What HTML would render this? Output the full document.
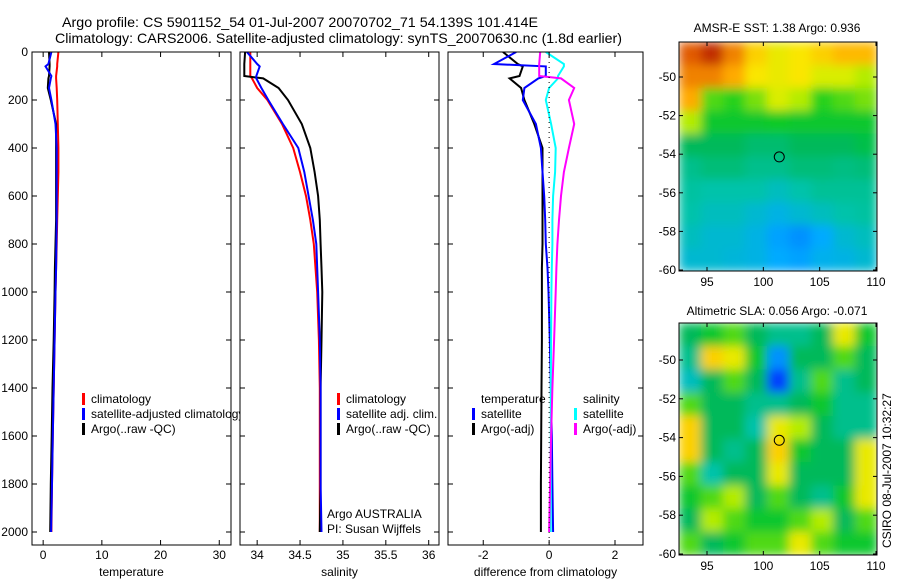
<!DOCTYPE html>
<html><head><meta charset="utf-8"><style>
body{margin:0;background:#fff}
svg{display:block;font-family:"Liberation Sans",sans-serif}
</style></head><body>
<svg id="fig" width="900" height="580" viewBox="0 0 900 580" xmlns="http://www.w3.org/2000/svg">
<defs>
<filter id="blur" x="-5%" y="-5%" width="110%" height="110%"><feGaussianBlur stdDeviation="5" edgeMode="duplicate"/></filter>
</defs>
<rect width="900" height="580" fill="#fff"/>
<text x="62" y="27" font-size="14" textLength="476" lengthAdjust="spacingAndGlyphs">Argo profile: CS 5901152_54 01-Jul-2007 20070702_71 54.139S 101.414E</text>
<text x="55" y="43" font-size="14" textLength="567" lengthAdjust="spacingAndGlyphs">Climatology: CARS2006. Satellite-adjusted climatology: synTS_20070630.nc (1.8d earlier)</text>
<g id="maps"></g>
<g id="panels"></g>
<text x="777" y="32" font-size="12" text-anchor="middle">AMSR-E SST: 1.38 Argo: 0.936</text>
<text x="777" y="315" font-size="12" text-anchor="middle">Altimetric SLA: 0.056 Argo: -0.071</text>
<text transform="translate(891,548) rotate(-90)" font-size="12">CSIRO 08-Jul-2007 10:32:27</text>
</svg>
<script>
const depths=[0,50,60,100,110,150,200,300,400,500,600,700,800,900,1000,1200,1400,1600,1800,2000];
const tClim=[2.6,2.4,2.4,2.2,2.2,2.3,2.4,2.5,2.6,2.6,2.5,2.4,2.3,2.2,2.1,1.95,1.8,1.65,1.5,1.4];
const tSat=[1.4,0.9,0.4,1.4,1.3,1.0,1.4,2.1,2.3,2.3,2.3,2.3,2.25,2.2,2.1,1.95,1.8,1.65,1.5,1.35];
const tArgo=[1.0,1.1,1.1,1.0,0.9,0.8,1.3,2.2,2.2,2.2,2.2,2.2,2.1,2.0,1.95,1.8,1.6,1.45,1.3,1.2];
const sClim=[33.92,33.92,33.92,33.92,33.94,34.0,34.12,34.29,34.42,34.5,34.57,34.62,34.66,34.68,34.7,34.72,34.73,34.73,34.73,34.73];
const sSat=[33.88,34.0,34.03,33.99,33.99,34.05,34.13,34.3,34.48,34.55,34.6,34.65,34.69,34.7,34.71,34.73,34.74,34.74,34.74,34.75];
const sArgo=[33.86,33.85,33.85,33.85,34.07,34.25,34.36,34.52,34.62,34.67,34.71,34.73,34.74,34.75,34.76,34.75,34.74,34.74,34.74,34.73];
const dTSat=[-1.0,-1.67,-0.1,-0.1,-0.33,-0.75,-0.8,-0.4,-0.25,-0.2,-0.15,-0.12,-0.1,-0.05,-0.02,0.02,0.05,0.08,0.1,0.12];
const dTArgo=[-1.4,-0.95,-0.8,-0.9,-1.2,-0.85,-0.75,-0.45,-0.2,-0.2,-0.2,-0.2,-0.2,-0.22,-0.22,-0.22,-0.23,-0.24,-0.25,-0.25];
const dSSat=[-0.1,0.45,0.45,0.27,0.27,0.0,-0.1,0.06,0.2,0.18,0.12,0.1,0.1,0.08,0.07,0.06,0.05,0.05,0.05,0.05];
const dSArgo=[-0.27,-0.3,-0.3,-0.3,0.36,0.76,0.6,0.76,0.6,0.45,0.36,0.3,0.25,0.22,0.2,0.15,0.1,0.06,0.03,0.0];
const sstGrid=[
[0.9,0.95,0.85,0.75,0.7,0.72,0.75,0.78,0.78],
[0.85,0.85,0.8,0.72,0.7,0.72,0.68,0.68,0.65],
[0.8,0.6,0.58,0.62,0.68,0.65,0.58,0.6,0.62],
[0.65,0.55,0.55,0.55,0.56,0.55,0.55,0.55,0.55],
[0.5,0.5,0.5,0.48,0.48,0.5,0.5,0.5,0.52],
[0.45,0.47,0.47,0.45,0.45,0.47,0.47,0.46,0.47],
[0.43,0.42,0.42,0.42,0.4,0.42,0.44,0.44,0.44],
[0.42,0.4,0.4,0.38,0.36,0.38,0.4,0.42,0.43],
[0.4,0.38,0.38,0.36,0.32,0.3,0.33,0.38,0.4],
[0.38,0.38,0.37,0.36,0.33,0.32,0.35,0.36,0.38]];
const slaGrid=[
[0.5,0.55,0.6,0.5,0.45,0.45,0.5,0.7,0.55],
[0.45,0.75,0.7,0.55,0.3,0.5,0.5,0.6,0.5],
[0.4,0.5,0.6,0.5,0.2,0.45,0.6,0.45,0.5],
[0.6,0.5,0.5,0.45,0.45,0.5,0.55,0.45,0.45],
[0.75,0.5,0.5,0.42,0.7,0.65,0.5,0.45,0.45],
[0.75,0.5,0.45,0.5,0.75,0.55,0.5,0.5,0.7],
[0.6,0.42,0.5,0.5,0.7,0.5,0.5,0.5,0.7],
[0.55,0.6,0.65,0.5,0.6,0.5,0.45,0.55,0.7],
[0.5,0.65,0.6,0.55,0.55,0.6,0.65,0.5,0.6],
[0.6,0.5,0.55,0.6,0.6,0.7,0.6,0.55,0.55]];
const depthTicks=[0,200,400,600,800,1000,1200,1400,1600,1800,2000];
const tTicks=[0,10,20,30], sTicks=[34,34.5,35,35.5,36], dTicks=[-2,0,2];
const latTicks=[-50,-52,-54,-56,-58,-60], lonTicks=[95,100,105,110];
const argoLon=101.414, argoLat=-54.139;

const NS="http://www.w3.org/2000/svg";
function mk(tag,attrs,parent){const e=document.createElementNS(NS,tag);for(const k in attrs)e.setAttribute(k,attrs[k]);parent.appendChild(e);return e;}
const panels=document.getElementById('panels');
const Y0=52,Y1=545;
const yD=d=>Y0+d*0.24;
function panel(name,x0,x1,v0,v1,ticks,title,series,showY){
  const g=mk('g',{},panels);
  
  
  const sx=v=>x0+(v-v0)/(v1-v0)*(x1-x0);
  const clip=mk('clipPath',{id:'c'+name},g);
  mk('rect',{x:x0,y:Y0,width:x1-x0,height:Y1-Y0},clip);
  const lines=mk('g',{'clip-path':'url(#c'+name+')'},g);
  series.forEach(s=>{
    const pts=depths.map((d,i)=>sx(s.v[i]).toFixed(1)+','+yD(d).toFixed(1)).join(' ');
    const p=mk('polyline',{points:pts,fill:'none',stroke:s.c,'stroke-width':2},lines);
    
    
  });
  const box=mk('rect',{x:x0,y:Y0,width:x1-x0,height:Y1-Y0,fill:'none',stroke:'#000','stroke-width':1},g);
  
  
  ticks.forEach(t=>{const x=sx(t);
    mk('line',{x1:x,y1:Y1,x2:x,y2:Y1-5,stroke:'#000'},g);
    mk('line',{x1:x,y1:Y0,x2:x,y2:Y0+5,stroke:'#000'},g);
    const tx=mk('text',{x:x,y:Y1+14,'font-size':12,'text-anchor':'middle'},g);tx.textContent=t;
    
    
  });
  depthTicks.forEach(d=>{const y=yD(d);
    mk('line',{x1:x0,y1:y,x2:x0+5,y2:y,stroke:'#000'},g);
    mk('line',{x1:x1,y1:y,x2:x1-5,y2:y,stroke:'#000'},g);
    if(showY){const tx=mk('text',{x:x0-4,y:y+4,'font-size':12,'text-anchor':'end'},g);tx.textContent=d;
      
      }
  });
  const tt=mk('text',{x:(x0+x1)/2,y:576,'font-size':12,'text-anchor':'middle'},g);tt.textContent=title;
  
  
  return {g,sx};
}
function legend(g,x,y,items){
  items.forEach((it,i)=>{const yy=y+i*15;
    if(it.c) mk('rect',{x:x,y:yy-10,width:3,height:12,fill:it.c},g);
    const t=mk('text',{x:x+(it.c?9:0),y:yy,'font-size':12},g);t.textContent=it.t;
    
    
  });
}
const p1=panel('temperature-panel',32,231,-1.9,32,tTicks,'temperature',[
 {n:'temp-climatology-line',c:'#f00',v:tClim},{n:'temp-argo-line',c:'#000',v:tArgo},{n:'temp-satellite-line',c:'#00f',v:tSat}],true);
const p2=panel('salinity-panel',240,439,33.8,36.12,sTicks,'salinity',[
 {n:'sal-climatology-line',c:'#f00',v:sClim},{n:'sal-argo-line',c:'#000',v:sArgo},{n:'sal-satellite-line',c:'#00f',v:sSat}],false);
const p3=panel('difference-panel',448,643,-3.07,2.85,dTicks,'difference from climatology',[
 {n:'diff-temp-argo-line',c:'#000',v:dTArgo},{n:'diff-temp-sat-line',c:'#00f',v:dTSat},
 {n:'diff-sal-sat-line',c:'#0ff',v:dSSat},{n:'diff-sal-argo-line',c:'#f0f',v:dSArgo}],false);
mk('line',{x1:p3.sx(0),y1:Y0,x2:p3.sx(0),y2:Y1,stroke:'#000','stroke-dasharray':'1,4'},p3.g);
const lc=mk('clipPath',{id:'lc1'},p1.g);mk('rect',{x:32,y:380,width:208,height:60},lc);
const lg1=mk('g',{'clip-path':'url(#lc1)'},p1.g);
legend(lg1,82,403,[{c:'#f00',t:'climatology'},{c:'#00f',t:'satellite-adjusted climatology'},{c:'#000',t:'Argo(..raw -QC)'}]);
legend(p2.g,337,403,[{c:'#f00',t:'climatology'},{c:'#00f',t:'satellite adj. clim.'},{c:'#000',t:'Argo(..raw -QC)'}]);
legend(p2.g,327,518,[{t:'Argo AUSTRALIA'},{t:'PI: Susan Wijffels'}]);
legend(p3.g,472,403,[{t:'   '},{c:'#00f',t:'satellite'},{c:'#000',t:'Argo(-adj)'}]);
legend(p3.g,574,403,[{t:'   '},{c:'#0ff',t:'satellite'},{c:'#f0f',t:'Argo(-adj)'}]);
{const t=mk('text',{x:481,y:403,'font-size':12},p3.g);t.textContent='temperature';
 
 const s=mk('text',{x:583,y:403,'font-size':12},p3.g);s.textContent='salinity';
 }

const stops=[[0,[0,0,160]],[0.2,[0,60,255]],[0.33,[0,170,255]],[0.42,[0,195,170]],[0.5,[0,185,90]],[0.57,[20,205,30]],[0.66,[200,240,0]],[0.72,[250,230,0]],[0.8,[255,170,0]],[0.9,[225,90,0]],[1,[160,0,0]]];
function cmap(v){for(let i=1;i<stops.length;i++){if(v<=stops[i][0]){const a=stops[i-1],b=stops[i],f=(v-a[0])/(b[0]-a[0]);
 const c=a[1].map((x,k)=>Math.round(x+(b[1][k]-x)*f));return 'rgb('+c.join(',')+')';}}return 'rgb(160,0,0)';}
const maps=document.getElementById('maps');
function map(name,grid,x0,x1,y0,y1,lat50y,lat60y,lon95x,lon110x){
  const g=mk('g',{},maps);
  
  
  const latY=l=>lat50y+(-50-l)/10*(lat60y-lat50y);
  const lonX=l=>lon95x+(l-95)/15*(lon110x-lon95x);
  const clip=mk('clipPath',{id:'clip-'+name},g);
  mk('rect',{x:x0,y:y0,width:x1-x0,height:y1-y0},clip);
  const outer=mk('g',{'clip-path':'url(#clip-'+name+')'},g);
  const cells=mk('g',{filter:'url(#blur)'},outer);
  const rows=grid.length,cols=grid[0].length,cw=(x1-x0)/cols,ch=(y1-y0)/rows;
  grid.forEach((r,i)=>r.forEach((v,j)=>{
    const c=mk('rect',{x:x0+j*cw,y:y0+i*ch,width:cw+0.6,height:ch+0.6,fill:cmap(v)},cells);
    
    
  }));
  mk('rect',{x:x0,y:y0,width:x1-x0,height:y1-y0,fill:'none',stroke:'#000'},g);
  latTicks.forEach(l=>{const y=latY(l);
    mk('line',{x1:x0,y1:y,x2:x0+4,y2:y,stroke:'#000'},g);mk('line',{x1:x1,y1:y,x2:x1-4,y2:y,stroke:'#000'},g);
    const t=mk('text',{x:x0-3,y:y+4,'font-size':12,'text-anchor':'end'},g);t.textContent=l;
    });
  lonTicks.forEach(l=>{const x=lonX(l);
    mk('line',{x1:x,y1:y1,x2:x,y2:y1-4,stroke:'#000'},g);mk('line',{x1:x,y1:y0,x2:x,y2:y0+4,stroke:'#000'},g);
    const t=mk('text',{x:x,y:y1+15,'font-size':12,'text-anchor':'middle'},g);t.textContent=l;
    });
  const m=mk('circle',{cx:lonX(argoLon),cy:latY(argoLat),r:5,fill:'none',stroke:'#000'},g);
  
  
}
map('sst-map',sstGrid,679,877,42,271,77,270,707,876);
map('sla-map',slaGrid,679,877,323,555,360,554,707,876);
</script>
</body></html>
